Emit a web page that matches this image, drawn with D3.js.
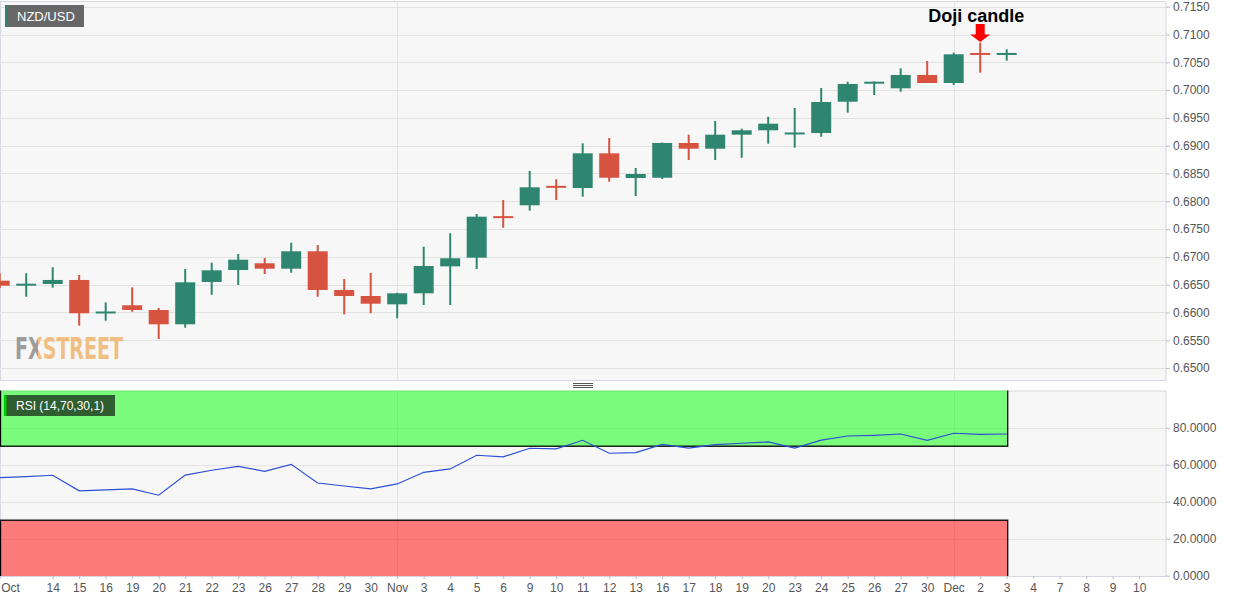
<!DOCTYPE html>
<html lang="en">
<head>
<meta charset="UTF-8">
<title>NZD/USD daily</title>
<script src="https://d3js.org/d3.v7.min.js"></script>
<style>
  body { margin: 0; background: #fff; }
  svg { display: block; font-family: "Liberation Sans", Arial, sans-serif; }
</style>
</head>
<body>
<svg id="canvas"></svg>
<script>
// trading days on the x axis (Oct 12 .. Dec 10)
let days = ['Oct 12','Oct 13','Oct 14','Oct 15','Oct 16','Oct 19','Oct 20','Oct 21','Oct 22','Oct 23',
            'Oct 26','Oct 27','Oct 28','Oct 29','Oct 30','Nov 2','Nov 3','Nov 4','Nov 5','Nov 6',
            'Nov 9','Nov 10','Nov 11','Nov 12','Nov 13','Nov 16','Nov 17','Nov 18','Nov 19','Nov 20',
            'Nov 23','Nov 24','Nov 25','Nov 26','Nov 27','Nov 30','Dec 1','Dec 2','Dec 3','Dec 4',
            'Dec 7','Dec 8','Dec 9','Dec 10']
let tickLabels = ['Oct','','14','15','16','19','20','21','22','23','26','27','28','29','30','Nov',
                  '3','4','5','6','9','10','11','12','13','16','17','18','19','20','23','24','25',
                  '26','27','30','Dec','2','3','4','7','8','9','10']

let open  = [0.66572,0.66490,0.66513,0.66585,0.65990,0.66130,0.66045,0.65788,0.66549,0.66764,
             0.66885,0.66788,0.67101,0.66405,0.66297,0.66147,0.66345,0.66830,0.66986,0.67715,
             0.67928,0.68260,0.68239,0.68863,0.68419,0.68424,0.69049,0.68946,0.69198,0.69277,
             0.69210,0.69228,0.69791,0.70115,0.70032,0.70272,0.70128,0.70650,0.70640]
let high  = [0.66705,0.66705,0.66813,0.66674,0.66183,0.66453,0.66081,0.66782,0.66896,0.67052,
             0.66980,0.67255,0.67214,0.66603,0.66710,0.66356,0.67183,0.67424,0.67772,0.68023,
             0.68545,0.68396,0.69043,0.69138,0.68599,0.69055,0.69198,0.69444,0.69306,0.69522,
             0.69678,0.70038,0.70151,0.70155,0.70392,0.70523,0.70673,0.70853,0.70734]
let low   = [0.66441,0.66284,0.66446,0.65763,0.65853,0.66014,0.65523,0.65727,0.66320,0.66495,
             0.66692,0.66716,0.66284,0.65968,0.65986,0.65896,0.66135,0.66135,0.66782,0.67525,
             0.67831,0.68023,0.68083,0.68353,0.68095,0.68401,0.68743,0.68743,0.68784,0.69036,
             0.68964,0.69162,0.69594,0.69912,0.69971,0.70128,0.70092,0.70313,0.70529]
let close = [0.66482,0.66500,0.66585,0.65986,0.66000,0.66045,0.65788,0.66543,0.66759,0.66950,
             0.66788,0.67101,0.66405,0.66297,0.66158,0.66345,0.66836,0.66975,0.67723,0.67700,
             0.68252,0.68240,0.68863,0.68424,0.68491,0.69049,0.68946,0.69198,0.69277,0.69396,
             0.69220,0.69786,0.70110,0.70151,0.70272,0.70128,0.70644,0.70640,0.70650]
let rsi   = [53.0,53.6,54.3,45.9,46.4,46.9,43.5,54.4,57.0,59.1,
             56.4,60.2,50.1,48.5,46.9,49.6,55.9,57.7,65.1,64.2,
             68.9,68.6,73.2,66.2,66.5,71.0,69.0,70.8,71.6,72.3,
             69.0,73.3,75.5,75.9,76.6,73.2,77.0,76.4,76.6]

let priceTicks = d3.range(0.65, 0.71501, 0.005)
let rsiTicks = [0, 20, 40, 60, 80]
let monthStarts = ['Nov 2', 'Dec 1']

let width = 1243
let height = 602
let plotRight = 1166
let bodyWidth = 20

let green = '#2f8670'
let red = '#d5533f'

let canvas = d3.select('#canvas').attr('width', width).attr('height', height)

let candles = days.slice(0, open.length).map((d, i) => ({
  day: d, o: open[i], h: high[i], l: low[i], c: close[i], r: rsi[i]
}))

let xScale = d3.scalePoint().domain(days).range([-0.3, 1139.2])
let yPrice = d3.scaleLinear().domain([0.65, 0.715]).range([368.1, 6.7])
let yRsi = d3.scaleLinear().domain([0, 100]).range([575.7, 390.7])

let pricePanel = { top: 1, bottom: 380 }
let rsiPanel = { top: 390.5, bottom: 576 }

let drawPanel = (p, id) => {
  canvas.append('clipPath').attr('id', id)
    .append('rect').attr('x', 0).attr('y', p.top).attr('width', plotRight).attr('height', p.bottom - p.top)
  canvas.append('rect')
    .attr('x', 0.5).attr('y', p.top + 0.5)
    .attr('width', plotRight - 0.5).attr('height', p.bottom - p.top)
    .attr('fill', '#f7f7f7').attr('stroke', '#d5d7e2')
  return canvas.append('g').attr('clip-path', 'url(#' + id + ')')
}

// ---------- price panel ----------
let pg = drawPanel(pricePanel, 'clipPrice')

pg.selectAll('.hgrid').data(priceTicks).enter().append('line')
  .attr('x1', 0).attr('x2', plotRight)
  .attr('y1', d => Math.round(yPrice(d)) + 0.5).attr('y2', d => Math.round(yPrice(d)) + 0.5)
  .attr('stroke', '#e2e2e2')
pg.selectAll('.vgrid').data(monthStarts).enter().append('line')
  .attr('x1', d => Math.round(xScale(d)) + 0.5).attr('x2', d => Math.round(xScale(d)) + 0.5)
  .attr('y1', pricePanel.top).attr('y2', pricePanel.bottom)
  .attr('stroke', '#e2e2e2')

// FXSTREET logo: one text, two colours via a hard-stop gradient
let grad = canvas.append('linearGradient').attr('id', 'logoGrad')
  .attr('gradientUnits', 'userSpaceOnUse').attr('x1', 15).attr('x2', 123).attr('y1', 0).attr('y2', 0)
grad.append('stop').attr('offset', 0.215).attr('stop-color', '#8c8c8c')
grad.append('stop').attr('offset', 0.215).attr('stop-color', '#f0b46e')
pg.append('text').attr('x', 15).attr('y', 359)
  .attr('font-family', '"Liberation Sans Narrow", "DejaVu Sans Condensed", sans-serif')
  .attr('font-weight', 'bold').attr('font-size', 31)
  .attr('textLength', 108).attr('lengthAdjust', 'spacingAndGlyphs')
  .attr('fill', 'url(#logoGrad)').attr('fill-opacity', 0.85).text('FXSTREET')

let cg = pg.selectAll('.candle').data(candles).enter().append('g')
cg.append('line')
  .attr('x1', d => xScale(d.day)).attr('x2', d => xScale(d.day))
  .attr('y1', d => yPrice(d.h)).attr('y2', d => yPrice(d.l))
  .attr('stroke', d => d.c >= d.o ? green : red).attr('stroke-width', 2)
cg.append('rect')
  .attr('x', d => xScale(d.day) - bodyWidth / 2)
  .attr('width', bodyWidth)
  .attr('y', d => Math.min(yPrice(d.o), yPrice(d.c)) - (Math.abs(yPrice(d.o) - yPrice(d.c)) < 2 ? 1 : 0))
  .attr('height', d => Math.max(2, Math.abs(yPrice(d.o) - yPrice(d.c))))
  .attr('fill', d => d.c >= d.o ? green : red)

// label box
canvas.append('rect').attr('x', 5).attr('y', 5).attr('width', 79).attr('height', 22)
  .attr('fill', '#5f5f5f').attr('fill-opacity', 0.95)
canvas.append('rect').attr('x', 5).attr('y', 5).attr('width', 2).attr('height', 22).attr('fill', green)
canvas.append('text').attr('x', 17).attr('y', 21).attr('fill', '#fff')
  .attr('font-size', 13).text('NZD/USD')

// doji annotation
let dojiX = xScale('Dec 2')
canvas.append('text').attr('x', dojiX - 4).attr('y', 22).attr('text-anchor', 'middle')
  .attr('font-size', 18).attr('font-weight', 'bold').attr('fill', '#000').text('Doji candle')
canvas.append('path')
  .attr('d', 'M' + (dojiX - 4.5) + ',24 h9 v10.5 h5.5 L' + dojiX + ',42 L' + (dojiX - 10) + ',34.5 h5.5 Z')
  .attr('fill', '#ff0000')

// price axis
let priceAxis = d3.axisRight(yPrice).tickValues(priceTicks).tickFormat(d3.format('.4f'))
  .tickSize(4).tickPadding(3)
canvas.append('g').attr('transform', 'translate(' + plotRight + ',0)').call(priceAxis)
  .call(g => g.select('.domain').remove())

// separator handle
canvas.selectAll('.handle').data([383.5, 385.5, 387.5]).enter().append('line')
  .attr('x1', 573).attr('x2', 593).attr('y1', d => d).attr('y2', d => d)
  .attr('stroke', '#555').attr('stroke-width', 1)

// ---------- RSI panel ----------
let rg = drawPanel(rsiPanel, 'clipRsi')

rg.selectAll('.hgrid').data(rsiTicks).enter().append('line')
  .attr('x1', 0).attr('x2', plotRight)
  .attr('y1', d => Math.round(yRsi(d)) + 0.5).attr('y2', d => Math.round(yRsi(d)) + 0.5)
  .attr('stroke', '#e2e2e2')
rg.selectAll('.vgrid').data(monthStarts).enter().append('line')
  .attr('x1', d => Math.round(xScale(d)) + 0.5).attr('x2', d => Math.round(xScale(d)) + 0.5)
  .attr('y1', rsiPanel.top).attr('y2', rsiPanel.bottom)
  .attr('stroke', '#e2e2e2')

let lastX = xScale(candles[candles.length - 1].day) + 0.5
rg.append('rect').attr('x', 0.5).attr('width', lastX)
  .attr('y', yRsi(100) - 2).attr('height', yRsi(70) - yRsi(100) + 2)
  .attr('fill', '#00ff00').attr('fill-opacity', 0.5).attr('stroke', '#000').attr('stroke-width', 1.3)
rg.append('rect').attr('x', 0.5).attr('width', lastX)
  .attr('y', yRsi(30)).attr('height', yRsi(0) - yRsi(30) + 3)
  .attr('fill', '#ff0000').attr('fill-opacity', 0.5).attr('stroke', '#000').attr('stroke-width', 1.3)

let rsiLine = d3.line().x(d => xScale(d.day)).y(d => yRsi(d.r))
rg.append('path').datum(candles).attr('d', rsiLine)
  .attr('fill', 'none').attr('stroke', '#2c4fd6').attr('stroke-width', 1.2)

canvas.append('rect').attr('x', 4).attr('y', 395).attr('width', 111).attr('height', 21)
  .attr('fill', '#2f5d30')
canvas.append('rect').attr('x', 4).attr('y', 395).attr('width', 2.5).attr('height', 21).attr('fill', '#00d000')
canvas.append('text').attr('x', 16).attr('y', 410).attr('fill', '#fff')
  .attr('font-size', 12).text('RSI (14,70,30,1)')

let rsiAxis = d3.axisRight(yRsi).tickValues(rsiTicks).tickFormat(d3.format('.4f'))
  .tickSize(4).tickPadding(3)
canvas.append('g').attr('transform', 'translate(' + plotRight + ',0)').call(rsiAxis)
  .call(g => g.select('.domain').remove())

// x axis
let xAxis = d3.axisBottom(xScale).tickValues(days).tickSize(3).tickPadding(4)
  .tickFormat((d, i) => tickLabels[i])
let xg = canvas.append('g').attr('transform', 'translate(0,' + rsiPanel.bottom + ')').call(xAxis)
xg.select('.domain').remove()
xg.selectAll('.tick').filter((d, i) => tickLabels[i] === '').remove()
xg.selectAll('.tick text').filter(d => d === 'Oct 12').attr('text-anchor', 'start').attr('x', 1)

canvas.selectAll('.tick text').attr('fill', '#555').attr('font-size', 12)
  .attr('font-family', '"Liberation Sans", Arial, sans-serif')
canvas.selectAll('.tick line').attr('stroke', '#b8bccb')
</script>
</body>
</html>
